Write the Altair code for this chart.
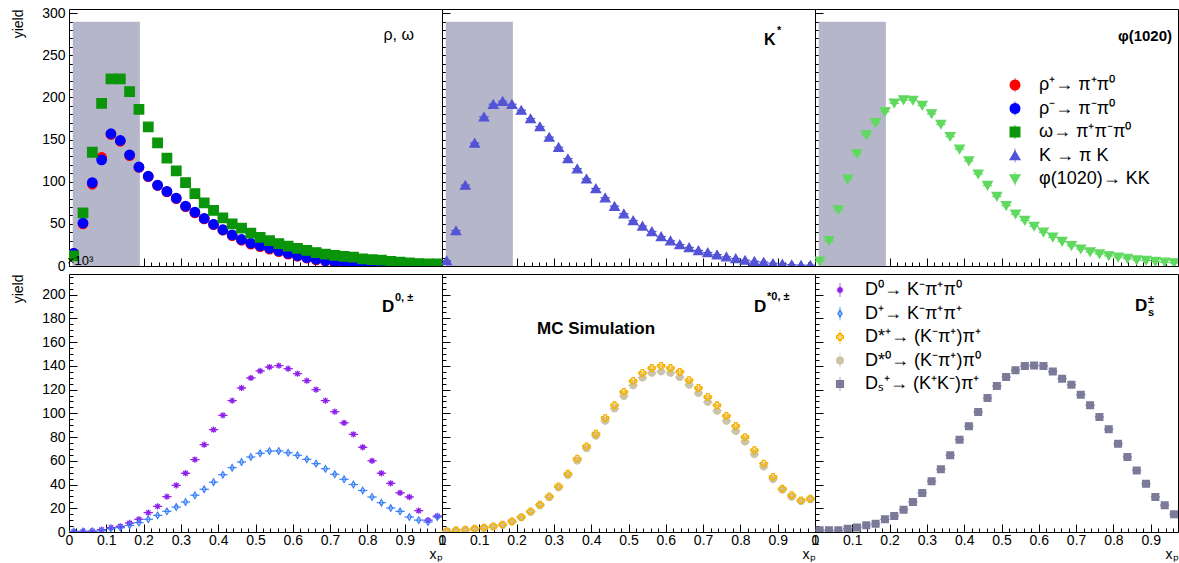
import altair as alt
import pandas as pd

# ---------------- data ----------------
x_bins = [0.0125, 0.0375, 0.0625, 0.0875, 0.1125, 0.1375, 0.1625, 0.1875, 0.2125, 0.2375,
          0.2625, 0.2875, 0.3125, 0.3375, 0.3625, 0.3875, 0.4125, 0.4375, 0.4625, 0.4875,
          0.5125, 0.5375, 0.5625, 0.5875, 0.6125, 0.6375, 0.6625, 0.6875, 0.7125, 0.7375,
          0.7625, 0.7875, 0.8125, 0.8375, 0.8625, 0.8875, 0.9125, 0.9375, 0.9625, 0.9875]

# top row, yield in units of 10^3
rho_plus = [15, 50, 97, 129, 156, 148, 131, 117, 106, 95.5, 88, 80, 70.5, 63, 56, 49, 42.5, 36, 30.5, 26,
            23, 20, 17, 14, 11.5, 9.3, 7.3, 5.8, 4.3, 3.3, 2.5, 1.9, 1.5, 1.2, 0.9, 0.7, 0.5, 0.4, 0.3, 0.2]
rho_minus = [15, 51, 99, 126, 157, 149, 132, 117.5, 106.5, 96, 88.5, 80.5, 71, 64, 56.5, 49.5, 43, 37, 31.5, 27,
             24, 21, 18, 15, 12.3, 10, 8, 6.4, 4.8, 3.8, 2.8, 2.2, 1.8, 1.4, 1.1, 0.9, 0.7, 0.5, 0.4, 0.3]
omega = [12, 63, 135, 193, 222, 222, 207, 186, 165, 146, 128, 113, 99, 86, 75, 66, 57, 50, 45, 39,
         34, 30, 26.5, 23.5, 21, 18.5, 16, 14, 12.5, 11.5, 10.5, 8.5, 7.5, 7, 5.5, 4.5, 3.6, 2.8, 2.4, 2.4]
kstar = [6.4, 42, 96, 146, 177, 192, 195.5, 192, 185, 175, 165.5, 153, 141, 127.5, 115.5, 103.5, 92, 81, 71, 62,
         54, 47.5, 41, 35, 30, 25.5, 22, 18.5, 16, 13.5, 11, 9, 7, 5.6, 4.7, 3.2, 2.4, 1.6, 1, 1]
phi = [5.6, 30, 66.5, 103, 133, 155.5, 170, 183, 193, 197, 196.5, 190.5, 180.5, 168, 153.5, 138.5, 124.5, 109, 95.5, 82.5,
       71.5, 61.5, 54, 47, 40, 34, 29, 24, 20, 16.6, 14.2, 12, 10.3, 8.8, 7.1, 6.4, 5.2, 4.4, 3.6, 3]

# bottom row
d0 = [0.3, 0.5, 0.8, 2, 3.7, 4.8, 7.6, 10.7, 16.3, 21.6, 29.8, 39.3, 49.5, 61, 73.6, 86.2, 98.3, 110.7, 121.4, 129.8,
      135.7, 139, 140.2, 137.6, 133.4, 127.5, 120, 110.7, 101.4, 92, 82.3, 71.4, 60, 49.5, 41, 33, 29.5, 18, 10, 13.5]
dplus = [0.5, 0.5, 0.6, 1, 2.8, 3.7, 5.6, 7.9, 10.7, 14, 17.4, 21, 25.3, 31, 36, 42, 48.3, 54.2, 59, 63.2,
         66.3, 68.3, 68.3, 66.8, 64.6, 61.2, 57.6, 53.3, 48.6, 44.4, 40, 35, 29.5, 24.7, 20.2, 17.4, 12.6, 10, 8.4, 12.6]
dstar_plus = [0.6, 1.4, 2, 2.8, 3.7, 4.8, 6.2, 9, 12.6, 17.4, 23, 30, 38.5, 49.2, 61.8, 72.2, 82.8, 96, 106.8, 118,
              127.3, 134, 138.2, 140, 138.2, 135, 128, 121.4, 113.8, 106.8, 97.8, 89.3, 80, 69, 57.6, 46.4, 36.5, 31, 26.7, 28]
dstar0 = [0.6, 1.2, 1.8, 2.5, 3.4, 4.5, 6, 8.6, 12.2, 16.8, 22.3, 29.2, 37.5, 47.8, 60, 70.5, 81, 93.5, 104, 114.5,
          123.5, 130, 134, 135.3, 134, 130.5, 124, 117, 109.5, 102, 93.5, 85, 76, 65.5, 55, 44.5, 35.5, 29.5, 26, 27.5]
ds = [1.4, 1.4, 1.4, 2.8, 3.7, 5.6, 7, 10.7, 13.5, 18.8, 25.3, 32.9, 42.7, 52.8, 64.6, 77.8, 89.1, 101.1, 112.9, 123,
      130.6, 136.3, 139.9, 140.4, 139.9, 135.2, 129.2, 124.1, 115.7, 106.8, 96.9, 86.6, 74.4, 63.2, 51.9, 40.7, 29.5, 22.5, 14.9, 12]

top_names = ["ρ⁺→ π⁺π⁰", "ρ⁻→ π⁻π⁰", "ω→ π⁺π⁻π⁰", "K → π K", "φ(1020)→ KK"]
bot_names = ["D⁰→ K⁻π⁺π⁰", "D⁺→ K⁻π⁺π⁺", "D*⁺→ (K⁻π⁺)π⁺", "D*⁰→ (K⁻π⁺)π⁰", "Dₛ⁺→ (K⁺K⁻)π⁺"]
legend_rank = [0, 1, 2, 3, 4]

shade_x = [0.01, 0.19]
shade_top = [290]

# ---------------- styles ----------------
FONT = "Liberation Sans"
STAR = "M-1,0L1,0M0,-1L0,1M-0.72,-0.72L0.72,0.72M-0.72,0.72L0.72,-0.72"
DIAM = "M0,-1L0.6,0L0,1L-0.6,0Z"

top_style = dict(
    shapes=["circle", "circle", "square", "triangle-up", "triangle-down"],
    fills=["#ff0000", "#0000ff", "#0a950a", "#5353d6", "#5fd95f"],
    strokes=["#ff0000", "#0000ff", "#0a950a", "#5353d6", "#5fd95f"],
    sizes=[90, 90, 110, 64, 81],
)
bot_style = dict(
    shapes=[STAR, DIAM, "cross", "circle", "square"],
    fills=["#8f1fe8", "transparent", "transparent", "#cbc4a8", "#7b7b99"],
    strokes=["#8f1fe8", "#3b82f6", "#f5b100", "#cbc4a8", "#7b7b99"],
    sizes=[40, 45, 95, 75, 72],
)


def frame(names, values):
    rows = []
    for n, v in zip(names, values):
        for xv, yv in zip(x_bins, v):
            rows.append({"x": xv, "y": yv, "series": n})
    return pd.DataFrame(rows)


top_df = frame(top_names, [rho_plus, rho_minus, omega, kstar, phi])
bot_df = frame([bot_names[0], bot_names[1], bot_names[3], bot_names[2], bot_names[4]],
               [d0, dplus, dstar0, dstar_plus, ds])

PW = 373
W3 = 363
TOP_H = 257
BOT_H = 258


def txt(s, x, y, size=16, weight="bold", align="left", baseline="alphabetic"):
    return alt.Chart(pd.DataFrame({"t": [s]})).mark_text(
        font=FONT, fontSize=size, fontWeight=weight, align=align, baseline=baseline, color="black"
    ).encode(text="t:N", x=alt.value(x), y=alt.value(y))


def style_enc(domain, style):
    return dict(
        shape=alt.Shape("series:N", scale=alt.Scale(domain=domain, range=style["shapes"]), legend=None),
        fill=alt.Fill("series:N", scale=alt.Scale(domain=domain, range=style["fills"]), legend=None),
        stroke=alt.Stroke("series:N", scale=alt.Scale(domain=domain, range=style["strokes"]), legend=None),
        size=alt.Size("series:N", scale=alt.Scale(domain=domain, range=style["sizes"]), legend=None),
    )


def legend_layers(names, style, sym_x, txt_x, y0, y1):
    ldf = pd.DataFrame({"series": names, "rank": legend_rank})
    yenc = alt.Y("rank:Q", scale=alt.Scale(domain=[0, 4], range=[y0, y1]), axis=None)
    syms = alt.Chart(ldf).mark_point(opacity=1, fillOpacity=1, strokeWidth=1.5).encode(
        x=alt.value(sym_x), y=yenc, **style_enc(names, style))
    vbar = alt.Chart(ldf).mark_tick(orient="vertical", size=14, thickness=1).encode(
        x=alt.value(sym_x), y=yenc,
        color=alt.Color("series:N", scale=alt.Scale(domain=names, range=style["strokes"]), legend=None))
    labs = alt.Chart(ldf).mark_text(font=FONT, fontSize=18, align="left", baseline="middle",
                                    color="black").encode(x=alt.value(txt_x), y=yenc, text="series:N")
    return [vbar, syms, labs]


def panel(df, series, domain, style, ydom, ytick_major, ytick_minor, width, height,
          first_col, bottom_row, shade=False, legend=None, labels=()):
    data = df[df["series"].isin(series)]
    xmax = width / PW
    xscale = alt.Scale(domain=[0, xmax], nice=False, zero=False)
    yscale = alt.Scale(domain=ydom, nice=False, zero=False)
    xaxis = alt.Axis(orient="bottom", tickCount=10, labels=bottom_row, labelFlush=False, labelPadding=1,
                     format="~g", title="xₚ" if bottom_row else None, titleAnchor="end", titlePadding=0,
                     offset=-8, tickSize=8, domain=False, grid=False, labelOverlap=False)
    yaxis = alt.Axis(orient="left", tickCount=ytick_major, labels=first_col, labelPadding=4,
                     title="yield" if first_col else None, titleAnchor="end", titlePadding=16,
                     offset=-8, tickSize=8, domain=False, grid=False, labelOverlap=False)
    xminor = alt.Axis(orient="bottom", tickCount=50, labels=False, title=None, offset=-4, tickSize=4,
                      domain=False, grid=False)
    yminor = alt.Axis(orient="left", tickCount=ytick_minor, labels=False, title=None, offset=-4, tickSize=4,
                      domain=False, grid=False)

    base = alt.Chart(data)
    rules = base.transform_calculate(xlo="datum.x - 0.0125", xhi="datum.x + 0.0125").mark_rule(
        strokeWidth=1.2, clip=True).encode(
        x=alt.X("xlo:Q", scale=xscale, axis=xaxis),
        x2="xhi:Q",
        y=alt.Y("y:Q", scale=yscale, axis=yaxis),
        color=alt.Color("series:N", scale=alt.Scale(domain=domain, range=style["strokes"]), legend=None),
    )
    pts = base.mark_point(opacity=1, fillOpacity=1, strokeWidth=1.3, clip=True).encode(
        x=alt.X("x:Q", scale=xscale, axis=None),
        y=alt.Y("y:Q", scale=yscale, axis=None),
        **style_enc(domain, style),
    )
    minor = base.mark_point(opacity=0, clip=True).encode(
        x=alt.X("x:Q", scale=xscale, axis=xminor),
        y=alt.Y("y:Q", scale=yscale, axis=yminor),
    )
    layers = []
    if shade:
        sh = alt.Chart(pd.DataFrame({"x0": [shade_x[0]], "x1": [shade_x[1]], "y0": [0], "y1": shade_top}))
        layers.append(sh.mark_rect(color="#b6b6ca", clip=True).encode(
            x=alt.X("x0:Q", scale=xscale, axis=None), x2="x1:Q",
            y=alt.Y("y0:Q", scale=yscale, axis=None), y2="y1:Q"))
    layers += [rules, minor, pts]
    if legend is not None:
        layers += legend_layers(domain, style, *legend)
    layers += list(labels)
    ch = alt.layer(*layers).resolve_axis(x="independent", y="independent")
    if legend is not None:
        ch = ch.resolve_scale(y="independent")
    return ch.properties(width=width, height=height)


p1 = panel(top_df, top_names[:3], top_names, top_style, [0, 305], 6, 30, PW, TOP_H, True, False, shade=True,
           labels=[txt("ρ,  ω", 345, 31, size=16, weight="normal", align="right"),
                   txt("×10³", -2, 256, size=13, weight="normal")])
p2 = panel(top_df, [top_names[3]], top_names, top_style, [0, 305], 6, 30, PW, TOP_H, False, False, shade=True,
           labels=[txt("K", 322, 36, size=16), txt("*", 335, 25, size=11)])
p3 = panel(top_df, [top_names[4]], top_names, top_style, [0, 305], 6, 30, W3, TOP_H, False, False, shade=True,
           legend=(200, 224, 76, 170),
           labels=[txt("φ(1020)", 357, 32, size=15, align="right")])

p4 = panel(bot_df, bot_names[:2], bot_names, bot_style, [0, 217.4], 10, 43, PW, BOT_H, True, True,
           labels=[txt("D", 313, 38, size=17), txt("0, ±", 326, 27, size=11)])
p5 = panel(bot_df, bot_names[2:4], bot_names, bot_style, [0, 217.4], 10, 43, PW, BOT_H, False, True,
           labels=[txt("D", 312, 38, size=17), txt("*0, ±", 325, 26, size=11),
                   txt("MC Simulation", 154, 60, size=17, align="center")])
p6 = panel(bot_df, [bot_names[4]], bot_names, bot_style, [0, 217.4], 10, 43, W3, BOT_H, False, True,
           legend=(25, 50, 16, 110),
           labels=[txt("D", 320, 37, size=17), txt("s", 333, 42, size=11), txt("±", 333, 29, size=11)])

RS = dict(shape="independent", fill="independent", stroke="independent", size="independent", color="independent")
top_row = alt.hconcat(p1, p2, p3, spacing=0, bounds="flush").resolve_scale(**RS)
bot_row = alt.hconcat(p4, p5, p6, spacing=0, bounds="flush").resolve_scale(**RS)

chart = alt.vconcat(top_row, bot_row, spacing=-9).resolve_scale(**RS).properties(
    padding={"left": 11, "top": 5, "right": 0, "bottom": 0},
    background="white",
).configure_view(
    stroke="black", strokeWidth=1
).configure_axis(
    labelFont=FONT, labelFontSize=14, labelColor="black", tickColor="black", tickWidth=1,
    titleFont=FONT, titleFontSize=14, titleFontWeight="normal", titleColor="black", grid=False,
)

chart.save("out.html", embed_options={"renderer": "svg", "actions": False})
